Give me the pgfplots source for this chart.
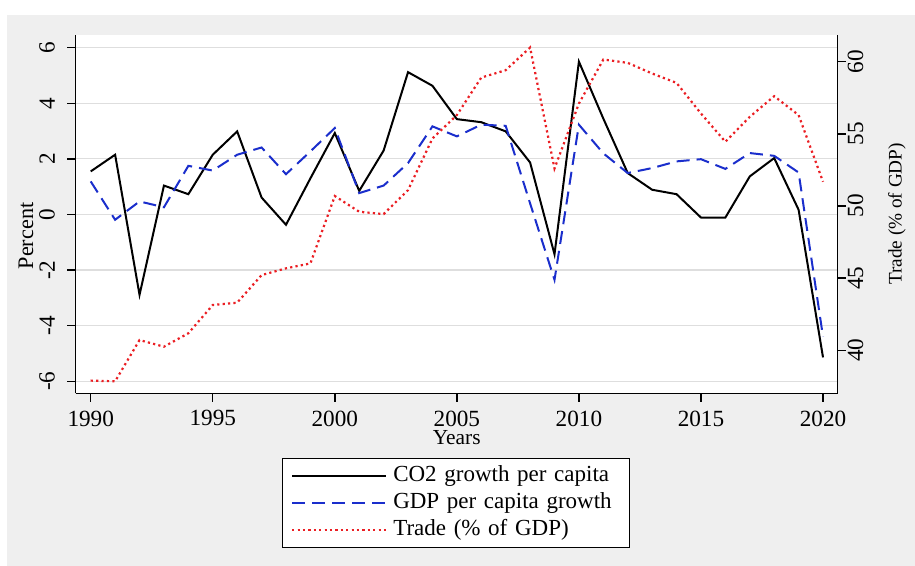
\documentclass[border=0pt]{standalone}
\usepackage{fontspec}
\setmainfont{Liberation Serif}
\usepackage{pgfplots}
\usepackage{pgfplotstable}
\pgfplotsset{compat=1.18}

\definecolor{panelgray}{RGB}{239,239,239}
\definecolor{gridgray}{RGB}{222,222,222}
\definecolor{gdpblue}{RGB}{26,46,204}
\definecolor{tradered}{RGB}{235,30,35}

% Year, CO2 growth per capita (%), GDP per capita growth (%), Trade (% of GDP)
\pgfplotstableread{
year co2   gdp   trade
1990  1.55  1.19 37.90
1991  2.15 -0.19 37.85
1992 -2.89  0.47 40.71
1993  1.04  0.26 40.25
1994  0.73  1.75 41.18
1995  2.15  1.58 43.14
1996  2.99  2.15 43.30
1997  0.61  2.41 45.21
1998 -0.37  1.45 45.68
1999  1.30  2.27 46.02
2000  2.93  3.11 50.69
2001  0.85  0.77 49.60
2002  2.30  1.04 49.44
2003  5.12  1.85 51.10
2004  4.63  3.17 54.68
2005  3.43  2.81 56.30
2006  3.32  3.23 58.90
2007  2.99  3.19 59.41
2008  1.87  0.40 60.98
2009 -1.43 -2.35 52.60
2010  5.50  3.23 57.10
2011  3.45  2.20 60.15
2012  1.49  1.49 59.92
2013  0.89  1.67 59.18
2014  0.73  1.91 58.53
2015 -0.11  1.99 56.41
2016 -0.11  1.64 54.45
2017  1.37  2.21 56.18
2018  2.03  2.11 57.61
2019  0.17  1.51 56.30
2020 -5.14 -4.40 51.68
}\datatable

\pgfplotsset{
  commonaxis/.style={
    scale only axis,
    width=381pt, height=179.15pt,
    at={(37.85pt,86.35pt)}, anchor=south west,
    xmin=1989.385, xmax=2020.602,
    tick align=outside,
    major tick length=4.25pt,
    axis line style={line width=0.7pt, black},
    every tick/.style={line width=0.7pt, black},
    /pgf/number format/assume math mode=true,
    tick label style={font=\fontsize{11.6}{13}\selectfont},
    clip=true,
  },
  co2style/.style={black, line width=1pt},
  gdpstyle/.style={gdpblue, line width=1pt, dash pattern=on 6.5pt off 3.5pt},
  tradestyle/.style={tradered, line width=1.1pt, dash pattern=on 1.1pt off 1.6pt},
}

\begin{document}
\begin{tikzpicture}
\path[use as bounding box] (0,0) rectangle (457.5pt,283pt);
\fill[white] (0,0) rectangle (457.5pt,283pt);
\fill[panelgray] (3.5pt,0) rectangle (457.5pt,275.5pt);

% Left axis: growth rates in percent
\begin{axis}[
  commonaxis,
  axis background/.style={fill=white},
  axis x line*=bottom,
  axis y line*=left,
  ymin=-6.432, ymax=6.457,
  ytick={-6,-4,...,6},
  xtick={1990,1995,...,2020},
  xticklabel style={/pgf/number format/1000 sep={}, anchor=north, inner ysep=4.2pt},
  yticklabel style={rotate=90, anchor=south, inner ysep=6pt},
  ymajorgrids,
  major grid style={gridgray, line width=0.6pt},
  xlabel={Years},
  ylabel={Percent},
  xlabel style={font=\fontsize{10.7}{12}\selectfont, at={(axis description cs:0.5,-0.1248)}, anchor=center},
  ylabel style={font=\fontsize{11.1}{13}\selectfont, at={(axis description cs:-0.0652,0.439)}, anchor=center, rotate=0},
]
\addplot[co2style] table[x=year, y=co2] {\datatable};
\addplot[gdpstyle] table[x=year, y=gdp] {\datatable};
\end{axis}

% Right axis: trade openness
\begin{axis}[
  commonaxis,
  axis x line=none,
  axis y line*=right,
  ymin=37.02, ymax=61.85,
  ytick={40,45,...,60},
  yticklabel style={rotate=90, anchor=north, inner ysep=0.6pt},
  ylabel={Trade (\% of GDP)},
  ylabel style={font=\fontsize{9.6}{11}\selectfont, at={(axis description cs:1.0778,0.5004)}, anchor=center, rotate=0},
  legend style={
    at={(axis description cs:0.4993,-0.1797)}, anchor=north,
    draw=black, line width=0.6pt, fill=white,
    inner xsep=4.2pt, inner ysep=2.2pt,
    row sep=0pt,
    font=\fontsize{11.5}{13}\selectfont,
    nodes={inner xsep=3pt, inner ysep=1.4pt, text height=8pt, text depth=2.6pt, text width=111pt, align=left},
  },
  legend cell align=left,
  legend image code/.code={\draw[#1] (0pt,0pt) -- (43.3pt,0pt); \path (0pt,0pt) -- (47pt,0pt);},
]
\addlegendimage{co2style}
\addlegendentry{CO2 growth per capita}
\addlegendimage{gdpstyle}
\addlegendentry{GDP per capita growth}
\addplot[tradestyle] table[x=year, y=trade] {\datatable};
\addlegendentry{Trade (\% of GDP)}
\end{axis}
\end{tikzpicture}
\end{document}
